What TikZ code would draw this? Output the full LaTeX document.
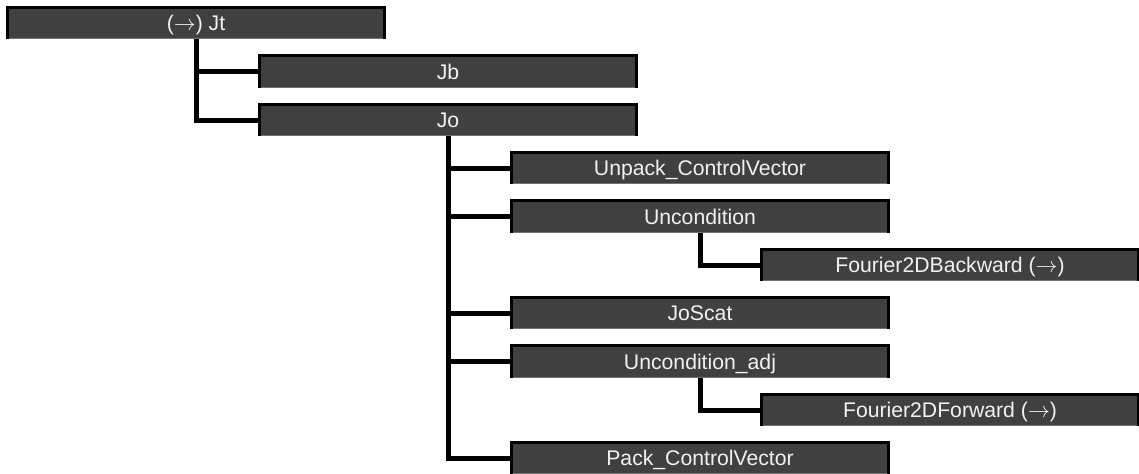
\documentclass[tikz,border=0pt]{standalone}
\usepackage{fontspec}
\setmainfont{Liberation Sans}
\usetikzlibrary{positioning}
\definecolor{boxgray}{RGB}{64,64,64}
\definecolor{boxtext}{RGB}{242,242,242}
\tikzset{
  callbox/.style={draw=black!55, line width=0.5pt, fill=boxgray, text=boxtext, anchor=north west,
    minimum width=188pt, minimum height=15.5pt, inner sep=0pt, text height=7.4pt, text depth=0pt,
    font=\fontsize{10.6}{12}\selectfont},
  rim/.style={black, line width=1.5pt, line join=miter},
  link/.style={black, line width=2.5pt},
}

\begin{document}
\begin{tikzpicture}[x=0.5pt,y=-0.5pt]
  \useasboundingbox (0,0) rectangle (1139,474);
  % call tree, one row every 48.33px
  \node[callbox] (jt)      at (7.5,   7.5)   {($\rightarrow$) Jt};
  \node[callbox] (jb)      at (259.5, 55.8)  {Jb};
  \node[callbox] (jo)      at (259.5, 104.2) {Jo};
  \node[callbox] (unpack)  at (511.5, 152.5) {Unpack\_ControlVector};
  \node[callbox] (uncond)  at (511.5, 200.8) {Uncondition};
  \node[callbox] (fourbwd) at (761.5, 249.2) {Fourier2DBackward ($\rightarrow$)};
  \node[callbox] (joscat)  at (511.5, 297.5) {JoScat};
  \node[callbox] (uncadj)  at (511.5, 345.8) {Uncondition\_adj};
  \node[callbox] (fourfwd) at (761.5, 394.2) {Fourier2DForward ($\rightarrow$)};
  \node[callbox] (pack)    at (511.5, 442.5) {Pack\_ControlVector};
  % dark rim on three sides
  \foreach \n in {jt,jb,jo,unpack,uncond,fourbwd,joscat,uncadj,fourfwd,pack}
    \draw[rim] (\n.south west) -- (\n.north west) -- (\n.north east) -- (\n.south east);
  % links
  \draw[link] (jt.south) |- (jb.west);
  \draw[link] (jt.south) |- (jo.west);
  \foreach \c in {unpack,uncond,joscat,uncadj,pack}
    \draw[link] (jo.south) |- (\c.west);
  \draw[link] (uncond.south) |- (fourbwd.west);
  \draw[link] (uncadj.south) |- (fourfwd.west);
\end{tikzpicture}
\end{document}
